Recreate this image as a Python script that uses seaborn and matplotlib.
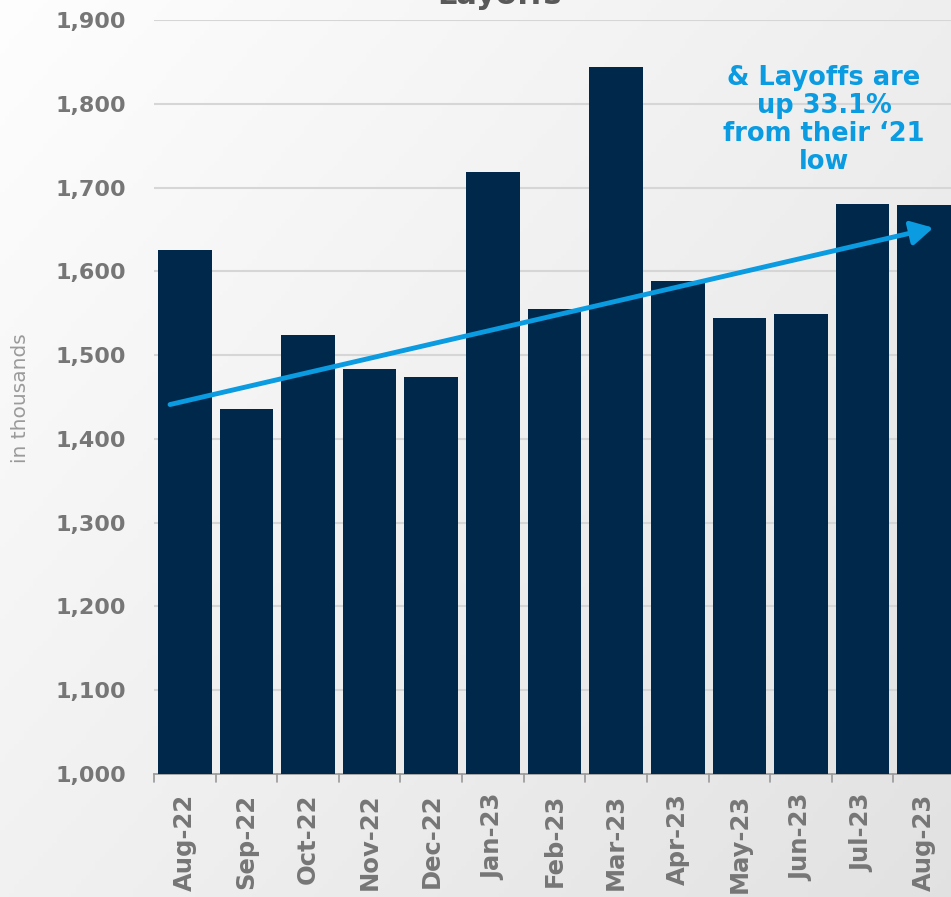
import numpy as np
import pandas as pd
import matplotlib
matplotlib.use("Agg")
import matplotlib.pyplot as plt
import seaborn as sns

months = ["Aug-22", "Sep-22", "Oct-22", "Nov-22", "Dec-22", "Jan-23", "Feb-23",
          "Mar-23", "Apr-23", "May-23", "Jun-23", "Jul-23", "Aug-23"]
layoffs = [1626, 1436, 1524, 1484, 1474, 1718, 1555, 1844, 1588, 1544, 1549, 1680, 1679]
yticks = [1000, 1100, 1200, 1300, 1400, 1500, 1600, 1700, 1800, 1900]
trend_start = (-0.24, 1441)
trend_end = (12.15, 1652)

sns.set_theme(style="white")
plt.rcParams['font.family'] = ['DejaVu Sans']

df = pd.DataFrame({"month": months, "layoffs": layoffs})

fig = plt.figure(figsize=(9.51, 8.97), dpi=100)

# gradient background
bg = fig.add_axes([0, 0, 1, 1], zorder=0)
yy, xx = np.mgrid[0:1:200j, 0:1:200j]
g = 0.995 - 0.11 * (0.55 * xx + 0.45 * yy)
bg.imshow(np.dstack([g, g, g]), aspect="auto", extent=[0, 1, 0, 1], origin="upper")
bg.axis("off")

ax = fig.add_axes([154 / 951, 1 - 774 / 897, 801 / 951, (774 - 20) / 897], zorder=1)
ax.patch.set_alpha(0)

sns.barplot(data=df, x="month", y="layoffs", color="#00284a", width=0.87,
            saturation=1, ax=ax, zorder=3, edgecolor="none", linewidth=0)
ax.set_ylim(1000, 1900)
ax.set_xlim(-0.5, len(months) - 0.5)
ax.set_yticks(yticks)
ax.set_yticklabels([f"{v:,}" for v in yticks], fontsize=16, fontweight="bold", color="#767676")
ax.set_xticks(range(len(months)))
ax.set_xticklabels(months, rotation=90, fontsize=17.5, fontweight="bold", color="#767676")
ax.tick_params(axis="x", length=0, pad=14)
ax.tick_params(axis="y", length=0, pad=20)

# boundary ticks on the x-axis
for b in np.arange(-0.5, len(months), 1.0):
    ax.plot([b, b], [0, -0.011], transform=ax.get_xaxis_transform(), color="#999999",
            lw=1.2, clip_on=False, zorder=4)

for v in yticks[1:]:
    ax.axhline(v, color="#d6d6d6", lw=1.5, zorder=1)

for s in ["top", "right", "left"]:
    ax.spines[s].set_visible(False)
ax.spines["bottom"].set_color("#999999")
ax.spines["bottom"].set_linewidth(1.2)

ax.set_xlabel("")
ax.set_ylabel("in thousands", fontsize=14.5, color="#9a9a9a")
ax.yaxis.set_label_coords(30 / 951, 1 - 398 / 897, transform=fig.transFigure)

ax.annotate("", xy=trend_end, xytext=trend_start, xycoords="data",
            arrowprops=dict(arrowstyle="-|>,head_length=1.1,head_width=0.6",
                            color="#0a9be0", lw=3.5, shrinkA=0, shrinkB=0),
            zorder=5, annotation_clip=False)

fig.text(824 / 951, 1 - 120 / 897, "& Layoffs are\nup 33.1%\nfrom their \u201821\nlow",
         ha="center", va="center", fontsize=18.5, fontweight="bold", color="#0a9be0",
         linespacing=1.1, zorder=5)

fig.text(500 / 951, 1 - 4 / 897, "Layoffs", ha="center", va="baseline",
         fontsize=22, fontweight="bold", color="#595959", zorder=5)

fig.savefig("out.png", dpi=100)
